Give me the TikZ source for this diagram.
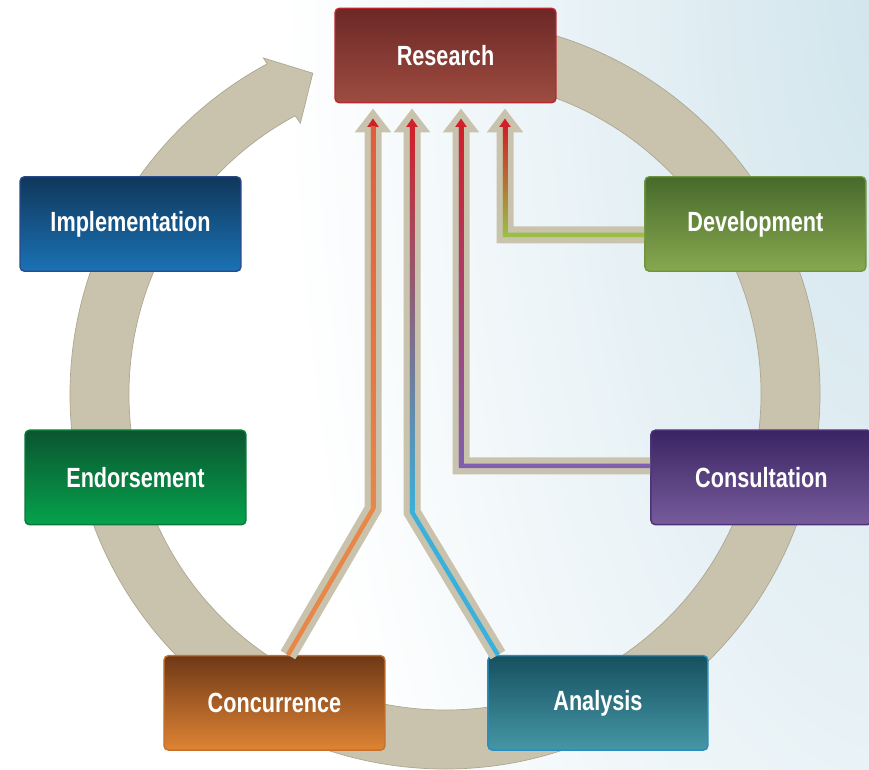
\documentclass[tikz,border=0pt]{standalone}
\usepackage{fontspec}
\usepackage{tikz}
\usetikzlibrary{arrows.meta,calc}
\newfontfamily\boxfont[FakeStretch=0.78]{Liberation Sans}

\definecolor{ringtan}{HTML}{C9C3AE}
\definecolor{ringedge}{HTML}{ADA792}
\definecolor{bgblue}{HTML}{D0E4EC}
\definecolor{tipred}{HTML}{D0202A}
\definecolor{resTop}{HTML}{6C2826}\definecolor{resBot}{HTML}{9E4C40}\definecolor{resEdge}{HTML}{B8282E}
\definecolor{impTop}{HTML}{10375B}\definecolor{impBot}{HTML}{1A72B5}\definecolor{impEdge}{HTML}{2A4A8A}
\definecolor{devTop}{HTML}{476A2C}\definecolor{devBot}{HTML}{88A84F}\definecolor{devEdge}{HTML}{6E9440}
\definecolor{endTop}{HTML}{0A5530}\definecolor{endBot}{HTML}{06A24C}\definecolor{endEdge}{HTML}{0A7A3A}
\definecolor{conTop}{HTML}{3B2463}\definecolor{conBot}{HTML}{775C9C}\definecolor{conEdge}{HTML}{4E3378}
\definecolor{ccrTop}{HTML}{6E3816}\definecolor{ccrBot}{HTML}{DF8434}\definecolor{ccrEdge}{HTML}{C8702A}
\definecolor{anaTop}{HTML}{16505F}\definecolor{anaBot}{HTML}{4597A6}\definecolor{anaEdge}{HTML}{2A8DC0}
\definecolor{ccrLine}{HTML}{E8874A}
\definecolor{anaLine}{HTML}{3BB0DA}
\definecolor{conLine}{HTML}{7F5FAE}
\definecolor{devLine}{HTML}{9BBF45}

\tikzset{stage/.style={rectangle, rounded corners=2.5pt, minimum width=4.42cm, minimum height=1.89cm, text centered, text=white, line width=0.8pt, font=\boxfont\bfseries\fontsize{15.8}{18}\selectfont}}

\begin{document}
\begin{tikzpicture}[x=0.02cm, y=0.02cm, node distance=5.07cm]
\tikzstyle{research} = [stage, top color=resTop, bottom color=resBot, draw=resEdge]
\tikzstyle{implement} = [stage, top color=impTop, bottom color=impBot, draw=impEdge]
\tikzstyle{develop} = [stage, top color=devTop, bottom color=devBot, draw=devEdge]
\tikzstyle{endorse} = [stage, top color=endTop, bottom color=endBot, draw=endEdge]
\tikzstyle{consult} = [stage, top color=conTop, bottom color=conBot, draw=conEdge]
\tikzstyle{concur} = [stage, top color=ccrTop, bottom color=ccrBot, draw=ccrEdge]
\tikzstyle{analyse} = [stage, top color=anaTop, bottom color=anaBot, draw=anaEdge, minimum width=4.4cm]
\tikzstyle{feed} = [line width=0.34cm, draw=ringtan, -{Triangle[width=0.7cm,length=0.48cm]}, shorten >=0.1cm]
\tikzstyle{thread} = [line width=0.09cm, -{Triangle[width=0.22cm,length=0.17cm,color=tipred]}, shorten >=0.3cm]

\useasboundingbox (0,0) rectangle (869,770);
\clip (0,0) rectangle (869,770);

% backdrop and cycle ring
\shade[inner color=bgblue, outer color=white] (900,800) ellipse [x radius=620, y radius=1500];
\coordinate (hub) at (445,376);
\filldraw[fill=ringtan, draw=ringedge, line width=0.4pt]
  ([shift={(85:375)}]hub) arc[start angle=85, end angle=-241.7, radius=375]
  -- ([shift={(118.4:382)}]hub) -- ([shift={(112.4:347)}]hub) -- ([shift={(118.1:307)}]hub)
  -- ([shift={(118.3:316)}]hub) arc[start angle=-241.7, end angle=85, radius=316] -- cycle;

% stages
\node (res) [research] at (445.5,714.5) {Research};
\node (impl) [implement] at (130.5,546) {Implementation};
\node (dev) [develop, right of=impl, xshift=7.43cm] {Development};
\node (endo) [endorse, below of=impl, xshift=0.1cm] {Endorsement};
\node (cons) [consult, below of=dev, xshift=0.12cm] {Consultation};
\node (conc) [concur, below of=endo, xshift=2.78cm, yshift=0.56cm] {Concurrence};
\node (ana) [analyse, right of=conc, xshift=1.4cm] {Analysis};

% bends of the feedback lines
\coordinate (kneeA) at (373,261);
\coordinate (kneeB) at (412,258);
\coordinate (kneeC) at (461,304);
\coordinate (kneeD) at (505,535);
\coordinate (tiptop) at ([yshift=-0.46cm]res.south);

\draw [feed] ([xshift=0.27cm]conc.north) -- (kneeA) -- (kneeA |- res.south);
\draw [feed] ([xshift=-2cm]ana.north) -- (kneeB) -- (kneeB |- res.south);
\draw [feed] ([yshift=0.23cm]cons.west) -- (kneeC) -- (kneeC |- res.south);
\draw [feed] ([yshift=-0.22cm]dev.west) -- (kneeD) -- (kneeD |- res.south);

\draw [thread, draw=ccrLine] ([xshift=0.27cm]conc.north) -- (kneeA) -- (kneeA |- res.south);
\draw [thread, draw=anaLine] ([xshift=-2cm]ana.north) -- (kneeB) -- (kneeB |- res.south);
\draw [thread, draw=conLine] ([yshift=0.23cm]cons.west) -- (kneeC) -- (kneeC |- res.south);
\draw [thread, draw=devLine] ([yshift=-0.22cm]dev.west) -- (kneeD) -- (kneeD |- res.south);

% red fade towards Research
\shade[top color=tipred!40!ccrLine, bottom color=ccrLine] ($(kneeA)+(-2.25,0)$) rectangle ($(kneeA |- tiptop)+(2.25,0)$);
\shade[top color=tipred, middle color=tipred!92!anaLine, bottom color=anaLine] ($(kneeB)+(-2.25,0)$) rectangle ($(kneeB |- tiptop)+(2.25,0)$);
\shade[top color=tipred, middle color=tipred!70!conLine, bottom color=conLine] ($(kneeC)+(-2.25,0)$) rectangle ($(kneeC |- tiptop)+(2.25,0)$);
\shade[top color=tipred, middle color=tipred!40!devLine, bottom color=devLine] ($(kneeD)+(-2.25,0)$) rectangle ($(kneeD |- tiptop)+(2.25,0)$);

\end{tikzpicture}
\end{document}
